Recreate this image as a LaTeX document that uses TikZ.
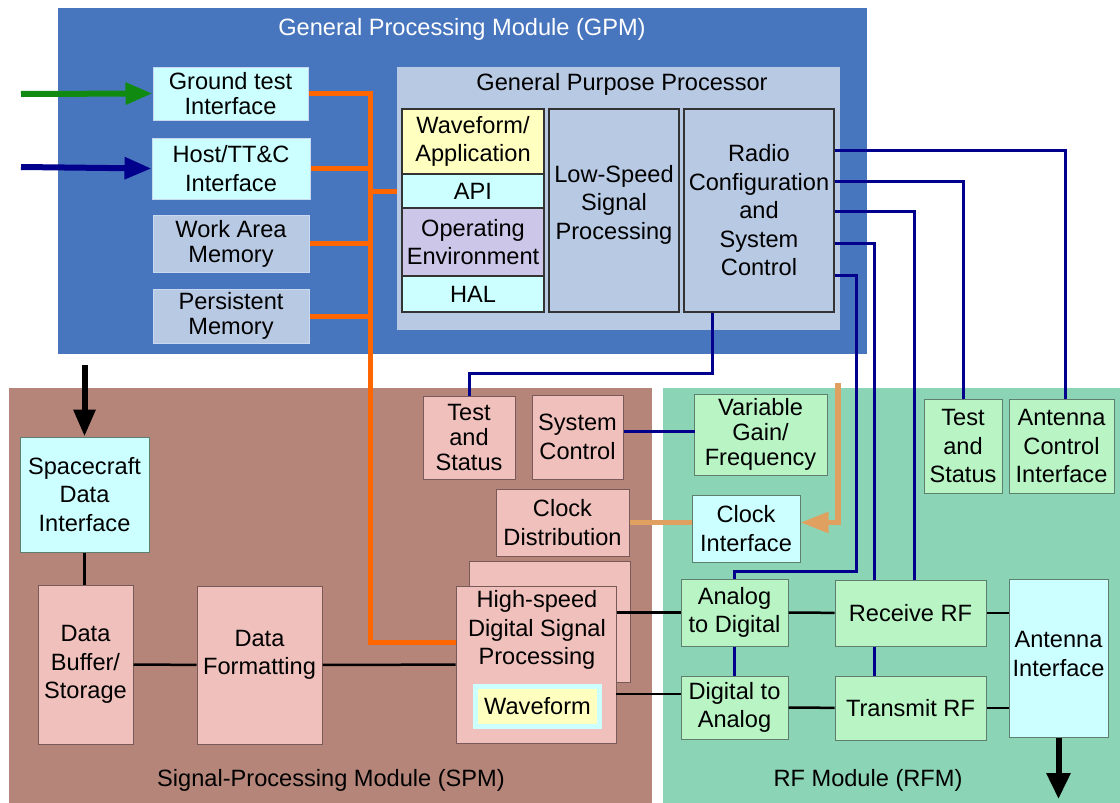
\documentclass[tikz,border=0pt]{standalone}
\usepackage{fontspec}
\setmainfont{Liberation Sans}
\usepackage{tikz}
\usetikzlibrary{arrows.meta,positioning}

\definecolor{gpmblue}{HTML}{4876BE}
\definecolor{gppfill}{HTML}{B8C9E4}
\definecolor{gpmedge}{HTML}{C8D8F0}
\definecolor{gppedge}{HTML}{333333}
\definecolor{cyanbox}{HTML}{CCFFFF}
\definecolor{yellowbox}{HTML}{FFFFC0}
\definecolor{lavbox}{HTML}{CCC6E8}
\definecolor{spmbg}{HTML}{B5857A}
\definecolor{pinkbox}{HTML}{F0C0BC}
\definecolor{spmedge}{HTML}{7A5A58}
\definecolor{rfmbg}{HTML}{8CD4B6}
\definecolor{greenbox}{HTML}{B8F4C4}
\definecolor{rfmedge}{HTML}{5E7F6E}
\definecolor{ctlnavy}{HTML}{00008C}
\definecolor{busorange}{HTML}{FF6600}
\definecolor{clktan}{HTML}{E0A060}
\definecolor{gtgreen}{HTML}{108A10}

\begin{document}
\begin{tikzpicture}[x=1pt,y=-1pt,
    every node/.style={font=\fontsize{23.6}{28.5}\selectfont,align=center,inner sep=0pt},
    gpm box/.style={rectangle,draw=gpmedge,line width=1pt,fill=#1},
    gpp box/.style={rectangle,draw=gppedge,line width=1.5pt,fill=#1},
    spm box/.style={rectangle,draw=spmedge,line width=1pt,fill=pinkbox},
    rfm box/.style={rectangle,draw=rfmedge,line width=1pt,fill=#1},
    tight text/.style={font=\fontsize{23.6}{25}\selectfont},
    ctlline/.style={draw=ctlnavy,line width=3pt},
    dataline/.style={draw=black,line width=2.5pt},
    busline/.style={draw=busorange,line width=5pt},
    clkline/.style={draw=clktan,line width=5.5pt},
    bigarrow/.style={line width=6pt,-{Triangle[length=27pt,width=21pt]}}]

    \useasboundingbox (0,0) rectangle (1120,803);
    \fill[white] (0,0) rectangle (1120,803);

    \fill[gpmblue] (58,8) rectangle (867,354);
    \fill[spmbg] (9,388) rectangle (652,803);
    \fill[rfmbg] (663,388) rectangle (1120,803);

    \node[text=white] (gpmT) at (462,29) {General Processing Module (GPM)};
    \node (spmT) at (331,780) {Signal-Processing Module (SPM)};
    \node (rfmT) at (868,780) {RF Module (RFM)};

    % GPM
    \node[gpm box=cyanbox,tight text,minimum width=155pt,minimum height=53pt] (gti) at (230.5,93.5) {Ground test\\Interface};
    \node[gpm box=cyanbox,minimum width=158pt,minimum height=61pt] (host) at (231,168.5) {Host/TT\&C\\Interface};
    \node[gpm box=gppfill,tight text,minimum width=156pt,minimum height=57pt] (wam) at (231,243.5) {Work Area\\Memory};
    \node[gpm box=gppfill,tight text,minimum width=156pt,minimum height=54pt] (pm) at (231,316) {Persistent\\Memory};

    \node[rectangle,fill=gppfill,minimum width=443pt,minimum height=263pt] (gpp) at (618.5,198.5) {};
    \node (gppT) at (622,84) {General Purpose Processor};
    \node[gpp box=yellowbox,minimum width=142pt,minimum height=65pt] (wfa) at (473,141.5) {Waveform/\\Application};
    \node[gpp box=cyanbox,minimum width=142pt,minimum height=34pt] (api) at (473,191) {API};
    \node[gpp box=lavbox,minimum width=142pt,minimum height=68pt] (oe) at (473,242) {Operating\\Environment};
    \node[gpp box=cyanbox,minimum width=142pt,minimum height=36pt] (hal) at (473,294) {HAL};
    \node[gpp box=gppfill,minimum width=130pt,minimum height=203pt] (lssp) at (614,210.5) {};
    \node (lsspT) at (614,204.5) {Low-Speed\\Signal\\Processing};
    \node[gpp box=gppfill,minimum width=150pt,minimum height=203pt] (rcsc) at (759,210.5) {Radio\\Configuration\\and\\System\\Control};

    % SPM
    \node[rectangle,draw=rfmedge,line width=1pt,fill=cyanbox,minimum width=129pt,minimum height=115pt] (sdi) at (84.5,494.5) {Spacecraft\\Data\\Interface};
    \node[spm box,minimum width=95pt,minimum height=159pt] (dbs) at (85.5,664.5) {Data\\Buffer/\\Storage};
    \node[spm box,minimum width=125pt,minimum height=158pt] (dfm) at (259.5,665) {};
    \node (dfmT) at (259.5,655) {Data\\Formatting};
    \node[spm box,tight text,minimum width=92pt,minimum height=83pt] (tss) at (469,437.5) {Test\\and\\Status};
    \node[spm box,minimum width=91pt,minimum height=84pt] (sysc) at (577.5,437) {System\\Control};
    \node[spm box,minimum width=133pt,minimum height=67pt] (clkd) at (562.5,522.5) {Clock\\Distribution};
    \node[spm box,minimum width=161pt,minimum height=121pt] (hsdspB) at (549.5,621.5) {};
    \node[spm box,minimum width=160pt,minimum height=157pt] (hsdsp) at (536,664.5) {};
    \node (hsdspT) at (537,630) {High-speed\\Digital Signal\\Processing};
    \node[rectangle,fill=yellowbox,draw=cyanbox,line width=5pt,minimum width=124pt,minimum height=40pt] (wf) at (537.5,706.5) {Waveform};

    % RFM
    \node[rfm box=greenbox,tight text,minimum width=133pt,minimum height=81pt] (vgf) at (760.5,434.5) {Variable\\Gain/\\Frequency};
    \node[rfm box=cyanbox,minimum width=108pt,minimum height=67pt] (clki) at (746,528.5) {Clock\\Interface};
    \node[rfm box=greenbox,minimum width=78pt,minimum height=94pt] (tsr) at (963,446) {Test\\and\\Status};
    \node[rfm box=greenbox,minimum width=105pt,minimum height=94pt] (aci) at (1061.5,446) {Antenna\\Control\\Interface};
    \node[rfm box=greenbox,minimum width=107pt,minimum height=67pt] (adc) at (734.5,612.5) {Analog\\to Digital};
    \node[rfm box=greenbox,minimum width=107pt,minimum height=63pt] (dac) at (734.5,707.5) {Digital to\\Analog};
    \node[rfm box=greenbox,minimum width=151pt,minimum height=66pt] (rxrf) at (910.5,613) {Receive RF};
    \node[rfm box=greenbox,minimum width=151pt,minimum height=64pt] (txrf) at (910.5,708) {Transmit RF};
    \node[rfm box=cyanbox,minimum width=99pt,minimum height=158pt] (ant) at (1058.5,658) {};
    \node (antT) at (1058.5,654) {Antenna\\Interface};

    \coordinate (gtin) at (21,94);
    \coordinate (hostin) at (21,167);
    \coordinate (scin) at (84.5,365);
    \coordinate (antout) at (1058.5,799);
    \coordinate (busB) at (370,642);
    \coordinate (adcbend) at (856,571);
    \coordinate (clksrc) at (838,383);

    \draw[bigarrow,draw=gtgreen] (gtin) -- (gti.west);
    \draw[bigarrow,draw=ctlnavy] (hostin) -- (host.west);
    \draw[bigarrow,draw=black] (scin) -- (sdi.north);
    \draw[bigarrow,draw=black,-{Triangle[length=26pt,width=23pt]}] (ant.south) -- (antout);

    \draw[busline] (gti.east) -| (busB) -- (busB -| hsdsp.west);
    \foreach \n in {host,wam,pm}
        \draw[busline] (\n.east) -- (\n.east -| busB);
    \draw[busline] (api.west -| busB) -- (api.west -| gpp.west);

    \draw[ctlline] ([yshift=60.5pt]rcsc.east) -| ([xshift=3.5pt]aci.north);
    \draw[ctlline] ([yshift=29.5pt]rcsc.east) -| (tsr.north);
    \draw[ctlline] ([yshift=-0.5pt]rcsc.east) -| ([xshift=3.5pt]rxrf.north);
    \draw[ctlline] ([yshift=-32.5pt]rcsc.east) -| ([xshift=-36.5pt]rxrf.north);
    \draw[ctlline] ([yshift=-64.5pt]rcsc.east) -| (adcbend) -| (adc.north);
    \draw[ctlline] ([xshift=-47pt]rcsc.south) -- ++(0,61) -| (tss.north);
    \draw[ctlline] ([yshift=6pt]sysc.east) -- ++(71,0);
    \draw[ctlline] (adc.south) -- (dac.north);
    \draw[ctlline] ([xshift=-36.5pt]rxrf.south) -- ([xshift=-36.5pt]txrf.north);

    \path[dataline]
        (sdi.south) edge (sdi.south |- dbs.north)
        (dbs) edge (dfm)
        (dfm) edge (hsdsp)
        (adc.west) edge (adc.west -| hsdsp.east)
        ([yshift=13.5pt]dac.west) edge ++(-65,0)
        (adc) edge (rxrf)
        (dac) edge (txrf)
        (rxrf.east) edge (rxrf.east -| ant.west)
        (txrf.east) edge (txrf.east -| ant.west);

    \draw[clkline] (clkd.east) -- (clkd.east -| clki.west);
    \draw[clkline,-{Triangle[length=28pt,width=20pt]}] (clksrc) |- ([yshift=6pt]clki.east);
\end{tikzpicture}
\end{document}
